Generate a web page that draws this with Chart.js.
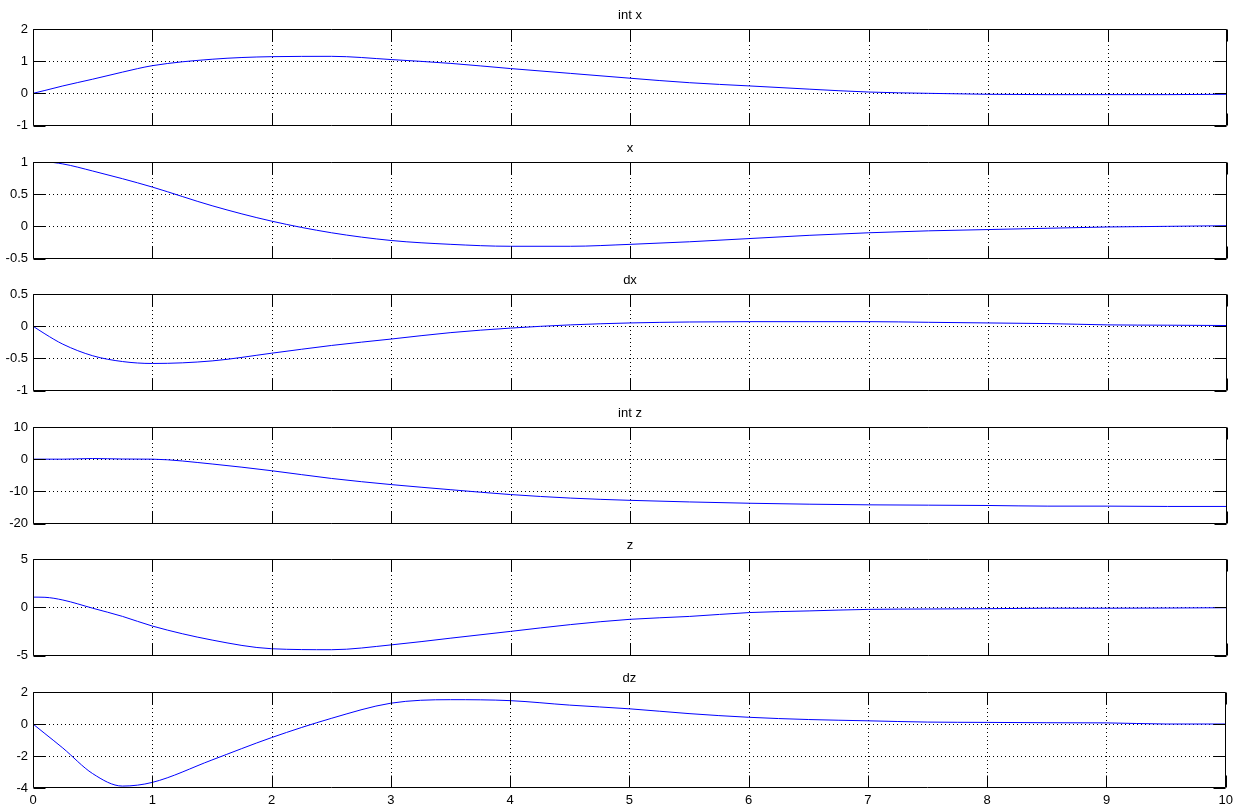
<!DOCTYPE html>
<html>
<head>
<meta charset="utf-8">
<script src="https://cdn.jsdelivr.net/npm/chart.js@4.4.1/dist/chart.umd.min.js"></script>
<style>
  html, body { margin: 0; padding: 0; background: #fff; }
  #wrap { position: relative; width: 1239px; height: 805px; background: #fff; overflow: hidden; }
  #wrap canvas { position: absolute; left: 0; }
</style>
</head>
<body>
<div id="wrap"></div>
<script>
// ---- data ----
const timeValues = [0, 0.1, 0.25, 0.5, 0.75, 1, 1.5, 2, 2.5, 3, 3.5, 4, 4.5, 5, 5.5, 6, 6.5, 7, 7.5, 8, 8.5, 9, 9.5, 10];
const intXValues = [0, 0.09, 0.23, 0.44, 0.66, 0.86, 1.06, 1.14, 1.15, 1.05, 0.93, 0.77, 0.62, 0.47, 0.33, 0.23, 0.13, 0.04, 0.0, -0.03, -0.04, -0.04, -0.04, -0.03];
const xValues    = [1.0, 1.0, 0.97, 0.86, 0.74, 0.61, 0.32, 0.08, -0.10, -0.22, -0.28, -0.31, -0.31, -0.28, -0.24, -0.19, -0.14, -0.10, -0.07, -0.05, -0.03, -0.01, 0.0, 0.01];
const dxValues   = [0, -0.12, -0.28, -0.46, -0.55, -0.58, -0.54, -0.42, -0.30, -0.20, -0.10, -0.03, 0.02, 0.05, 0.065, 0.07, 0.07, 0.07, 0.06, 0.05, 0.04, 0.02, 0.015, 0.01];
const intZValues = [0, 0, 0, 0.2, 0.05, 0, -1.5, -3.6, -6.0, -7.9, -9.5, -11.0, -12.1, -12.8, -13.3, -13.7, -14.0, -14.2, -14.3, -14.4, -14.6, -14.6, -14.7, -14.7];
const zValues    = [1.05, 1.03, 0.75, -0.1, -0.95, -1.95, -3.4, -4.3, -4.4, -3.9, -3.2, -2.5, -1.8, -1.25, -0.95, -0.55, -0.38, -0.22, -0.18, -0.15, -0.1, -0.1, -0.08, -0.05];
const dzValues   = [0, -0.6, -1.5, -3.1, -3.88, -3.65, -2.25, -0.85, 0.35, 1.3, 1.52, 1.46, 1.18, 0.95, 0.65, 0.42, 0.28, 0.2, 0.12, 0.1, 0.08, 0.07, 0.0, 0.0];

const panelTitles = ['int x', 'x', 'dx', 'int z', 'z', 'dz'];
const panelSeries = [intXValues, xValues, dxValues, intZValues, zValues, dzValues];
const yMins  = [-1, -0.5, -1, -20, -5, -4];
const yMaxs  = [2, 1, 0.5, 10, 5, 2];
const ySteps = [1, 0.5, 0.5, 10, 5, 2];
const xMin = 0, xMax = 10, xStep = 1;

// ---- layout ----
const plotTops = [29, 162, 294, 427, 559, 692];
const plotHeight = 96;
const FONT = '"Liberation Sans", Arial, Helvetica, sans-serif';
const fmt = v => String(Math.round(v * 100) / 100);

const matlabAxes = {
  id: 'matlabAxes',
  beforeDatasetsDraw(chart) {
    const {ctx, chartArea: a, scales: {x, y}} = chart;
    ctx.save();
    ctx.strokeStyle = '#000';
    ctx.lineWidth = 1;
    ctx.setLineDash([1, 3]);
    ctx.beginPath();
    x.ticks.forEach(t => {
      const px = Math.round(x.getPixelForValue(t.value)) + 0.5;
      if (px > a.left + 2 && px < a.right - 2) { ctx.moveTo(px, a.top); ctx.lineTo(px, a.bottom); }
    });
    y.ticks.forEach(t => {
      const py = Math.round(y.getPixelForValue(t.value)) + 0.5;
      if (py > a.top + 2 && py < a.bottom - 2) { ctx.moveTo(a.left, py); ctx.lineTo(a.right, py); }
    });
    ctx.stroke();
    ctx.restore();
  },
  afterDatasetsDraw(chart) {
    const {ctx, chartArea: a, scales: {x, y}} = chart;
    const L = Math.round(a.left) + 0.5, R = Math.round(a.right) - 0.5;
    const T = Math.round(a.top) + 0.5, B = Math.round(a.bottom) - 0.5;
    const tl = 12;
    ctx.save();
    ctx.strokeStyle = '#000';
    ctx.lineWidth = 1;
    ctx.setLineDash([]);
    ctx.beginPath();
    ctx.rect(L, T, R - L, B - T);
    x.ticks.forEach(t => {
      const px = Math.round(x.getPixelForValue(t.value)) + 0.5;
      ctx.moveTo(px, T); ctx.lineTo(px, T + tl);
      ctx.moveTo(px, B); ctx.lineTo(px, B - tl);
    });
    y.ticks.forEach(t => {
      const py = Math.round(y.getPixelForValue(t.value)) + 0.5;
      ctx.moveTo(L, py); ctx.lineTo(L + tl, py);
      ctx.moveTo(R, py); ctx.lineTo(R - tl, py);
    });
    ctx.stroke();
    ctx.restore();
  }
};

function makeConfig(i) {
  const last = i === panelTitles.length - 1;
  const series = panelSeries[i];
  return {
    type: 'line',
    data: {
      datasets: [{
        data: timeValues.map((t, k) => ({x: t, y: series[k]})),
        borderColor: '#0000ff',
        borderWidth: 1,
        pointRadius: 0,
        fill: false,
        cubicInterpolationMode: 'monotone'
      }]
    },
    options: {
      responsive: false,
      maintainAspectRatio: false,
      animation: false,
      devicePixelRatio: 1,
      layout: { padding: { left: 0, right: 12, top: 0, bottom: 0 } },
      plugins: {
        legend: { display: false },
        tooltip: { enabled: false },
        title: {
          display: true,
          text: panelTitles[i],
          color: '#000',
          fullSize: false,
          font: { family: FONT, size: 13, weight: 'normal', lineHeight: '16px' },
          padding: { top: 2, bottom: 6 }
        }
      },
      scales: {
        x: {
          type: 'linear',
          min: xMin, max: xMax,
          grid: { display: false, drawTicks: false },
          border: { display: false },
          ticks: {
            display: last,
            stepSize: xStep,
            color: '#000',
            padding: 6,
            maxRotation: 0,
            autoSkip: false,
            callback: fmt,
            font: { family: FONT, size: 13, lineHeight: 1 }
          },
          afterFit(scale) { scale.height = last ? 17 : 0; }
        },
        y: {
          type: 'linear',
          min: yMins[i], max: yMaxs[i],
          grid: { display: false, drawTicks: false },
          border: { display: false },
          ticks: {
            stepSize: ySteps[i],
            color: '#000',
            padding: 5,
            autoSkip: false,
            callback: fmt,
            font: { family: FONT, size: 13, lineHeight: 1 }
          },
          afterFit(scale) { scale.width = 33; }
        }
      }
    },
    plugins: [matlabAxes]
  };
}

const wrap = document.getElementById('wrap');
panelTitles.forEach((title, i) => {
  const last = i === panelTitles.length - 1;
  // first pass: measure the layout Chart.js produces
  let height = last ? 113 : 130;
  const probe = document.createElement('canvas');
  probe.width = 1239; probe.height = height;
  probe.style.top = '0px';
  wrap.appendChild(probe);
  let chart = new Chart(probe, makeConfig(i));
  const areaH = chart.chartArea.bottom - chart.chartArea.top;
  chart.destroy();
  wrap.removeChild(probe);

  height = Math.round(height + (plotHeight - areaH));
  const cv = document.createElement('canvas');
  cv.width = 1239; cv.height = height;
  cv.style.width = '1239px'; cv.style.height = height + 'px';
  wrap.appendChild(cv);
  chart = new Chart(cv, makeConfig(i));
  cv.style.top = (plotTops[i] - Math.round(chart.chartArea.top)) + 'px';
});
</script>
</body>
</html>
